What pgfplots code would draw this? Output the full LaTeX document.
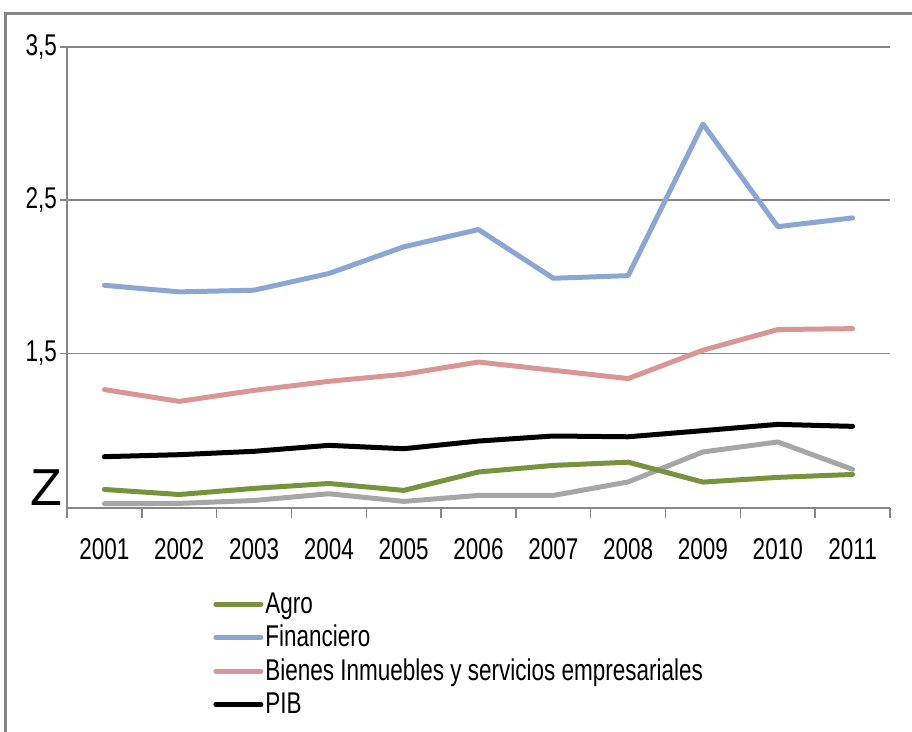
\documentclass[border=0pt]{standalone}
\usepackage{fontspec}
\setmainfont[FakeStretch=0.75]{Liberation Sans}
\newfontfamily\zfont{Liberation Sans}
\usepackage{pgfplots}
\pgfplotsset{compat=1.18}
\definecolor{agro}{RGB}{119,147,60}
\definecolor{fin}{RGB}{139,166,211}
\definecolor{bien}{RGB}{217,150,148}
\definecolor{grisl}{RGB}{166,166,166}
\definecolor{gridc}{RGB}{134,134,134}
\begin{document}
\begin{tikzpicture}
\begin{axis}[
  at={(33.5pt,112pt)}, anchor=south west,
  scale only axis, width=411.5pt, height=230.5pt,
  xmin=-0.5, xmax=10.5, ymin=0.49, ymax=3.5,
  axis x line*=bottom, axis y line*=left,
  axis line style={-, draw=gridc, line width=0.75pt},
  xtick={0,...,10},
  xticklabels={2001,2002,2003,2004,2005,2006,2007,2008,2009,2010,2011},
  minor xtick={-0.5,0.5,...,10.5},
  major x tick style={draw=none},
  minor tick length=5pt,
  tick align=outside,
  tick style={draw=gridc, line width=0.75pt},
  ytick={1.5,2.5,3.5},
  yticklabels={{1,5},{2,5},{3,5}},
  major tick length=3.5pt,
  ymajorgrids,
  grid style={draw=gridc, line width=0.75pt},
  tick label style={font=\fontsize{15}{18}\selectfont},
  xticklabel style={yshift=-8pt},
  yticklabel style={xshift=2pt},
  legend style={at={(axis description cs:0.1774,-0.178)}, anchor=north west, draw=none, fill=none, inner sep=0pt, row sep=2.5pt, nodes={inner sep=1pt, anchor=west}, font=\fontsize{15}{17}\selectfont},
  legend cell align=left,
  legend image code/.code={\draw[#1] (0pt,0pt) -- (22.5pt,0pt);},
  every axis plot/.append style={line width=2.5pt, line join=round, line cap=round},
]
\addplot[grisl, forget plot] coordinates {(0,0.518) (1,0.52) (2,0.539) (3,0.583) (4,0.533) (5,0.572) (6,0.572) (7,0.66) (8,0.856) (9,0.921) (10,0.742)};
\addplot[agro] coordinates {(0,0.611) (1,0.578) (2,0.618) (3,0.65) (4,0.605) (5,0.725) (6,0.768) (7,0.789) (8,0.659) (9,0.69) (10,0.709)};
\addlegendentry{Agro}
\addplot[fin] coordinates {(0,1.944) (1,1.901) (2,1.912) (3,2.021) (4,2.195) (5,2.308) (6,1.99) (7,2.007) (8,2.997) (9,2.327) (10,2.384)};
\addlegendentry{Financiero}
\addplot[bien] coordinates {(0,1.263) (1,1.186) (2,1.258) (3,1.317) (4,1.363) (5,1.443) (6,1.389) (7,1.335) (8,1.52) (9,1.655) (10,1.661)};
\addlegendentry{Bienes Inmuebles y servicios empresariales}
\addplot[black] coordinates {(0,0.825) (1,0.838) (2,0.86) (3,0.899) (4,0.877) (5,0.927) (6,0.96) (7,0.955) (8,0.995) (9,1.036) (10,1.023)};
\addlegendentry{PIB}
\end{axis}
\node[font=\zfont\fontsize{26}{26}\selectfont, inner sep=0pt] at (23pt,122pt) {Z};
\draw[line width=1.5pt, gridc] (2.5pt,-20pt) -- (2.5pt,359pt) -- (480pt,359pt);
\pgfresetboundingbox
\path[use as bounding box] (0,0) rectangle (456pt,366pt);
\end{tikzpicture}
\end{document}
